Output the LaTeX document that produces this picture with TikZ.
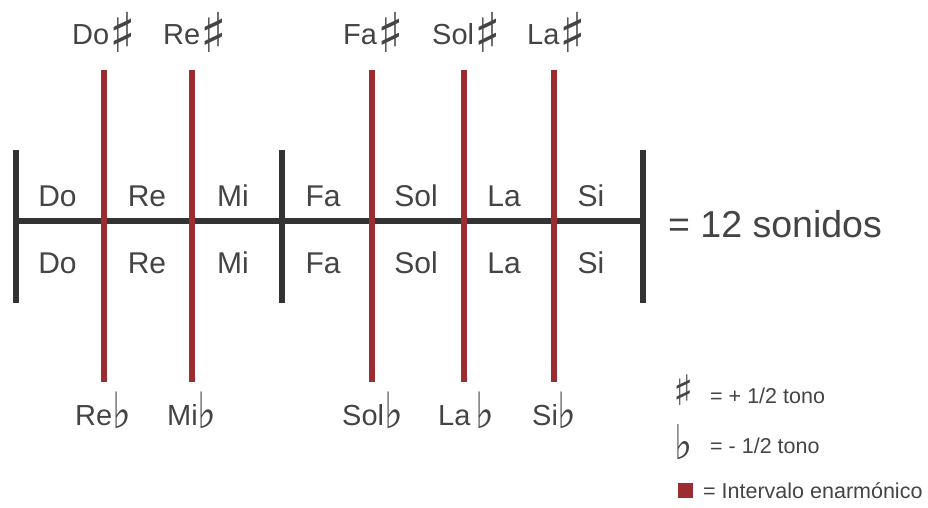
\documentclass[tikz,border=0pt]{standalone}
\usepackage{fontspec}
\setmainfont{Liberation Sans}
\newfontfamily\musicsym{DejaVu Sans}
\definecolor{txtgray}{HTML}{444444}
\definecolor{bargray}{HTML}{333333}
\definecolor{enharm}{HTML}{9B2D30}
% accidentals in a larger size than the note names
\newcommand{\shp}{\raisebox{-8pt}{\musicsym\fontsize{55}{55}\selectfont ♯}}
\newcommand{\flt}{\raisebox{-3pt}{\scalebox{0.8}[1]{\musicsym\fontsize{50}{50}\selectfont ♭}}}
\newcommand{\shps}{\raisebox{-4pt}{\musicsym\fontsize{42}{42}\selectfont ♯}}
\newcommand{\flts}{\raisebox{-6pt}{\scalebox{0.8}[1]{\musicsym\fontsize{48}{48}\selectfont ♭}}}
\begin{document}
\begin{tikzpicture}[x=1pt,y=-1pt,
  note/.style={text=txtgray,font=\fontsize{30}{36}\selectfont,inner sep=0pt,anchor=base},
  accid/.style={text=txtgray,font=\fontsize{29}{34}\selectfont,inner sep=0pt,anchor=base west},
  legendtxt/.style={text=txtgray,font=\fontsize{21.5}{25}\selectfont,inner sep=0pt,anchor=base west},
  blackbar/.style={draw=bargray,line width=6pt},
  redbar/.style={draw=enharm,line width=6pt}]
\useasboundingbox (0,0) rectangle (928,508);

% staff frame
\coordinate (L0) at (16,221);
\coordinate (R0) at (643,221);
\draw[blackbar] (L0) -- (R0);
\foreach \x/\n in {16/a,282/b,643/c}{
  \coordinate (top\n) at (\x,150);
  \coordinate (bot\n) at (\x,303);
  \draw[blackbar] (top\n) -- (bot\n);
}

% enharmonic intervals
\foreach \x/\n in {103.5/1,192/2,372/3,464/4,554/5}{
  \coordinate (rt\n) at (\x,70);
  \coordinate (rb\n) at (\x,382);
  \draw[redbar] (rt\n) -- (rb\n);
}

% natural notes, two rows
\foreach \x/\t/\n in {57.5/Do/do,147/Re/re,233/Mi/mi,323/Fa/fa,416/Sol/sol,504/La/la,591/Si/si}{
  \node[note] (up\n) at (\x,206) {\t};
  \node[note] (dn\n) at (\x,273) {\t};
}

% sharps
\node[accid] (dos) at (72,45) {Do\shp};
\node[accid] (res) at (163,45) {Re\shp};
\node[accid] (fas) at (343,45) {Fa\shp};
\node[accid] (sols) at (432,45) {Sol\shp};
\node[accid] (las) at (527,45) {La\shp};

% flats
\node[accid] (reb) at (75,425) {Re\flt};
\node[accid] (mib) at (167,425) {Mi\flt};
\node[accid] (solb) at (342,425) {Sol\flt};
\node[accid] (lab) at (438,425) {La\,\flt};
\node[accid] (sib) at (532,425) {Si\flt};

% total
\node[text=txtgray,font=\fontsize{37.5}{44}\selectfont,inner sep=0pt,anchor=base west] (total) at (668,237) {= 12 sonidos};

% legend
\node[text=txtgray,inner sep=0pt,anchor=base west] (lsharp) at (673,401) {\shps};
\node[legendtxt] (lsharpt) at (710,403) {= + 1/2 tono};
\node[text=txtgray,inner sep=0pt,anchor=base west] (lflat) at (674,453) {\flts};
\node[legendtxt] (lflatt) at (710,453) {= - 1/2 tono};
\node[fill=enharm,minimum size=15pt,inner sep=0pt] (lred) at (685.5,490.5) {};
\node[legendtxt] (lredt) at (703,498) {= Intervalo enarmónico};
\end{tikzpicture}
\end{document}
